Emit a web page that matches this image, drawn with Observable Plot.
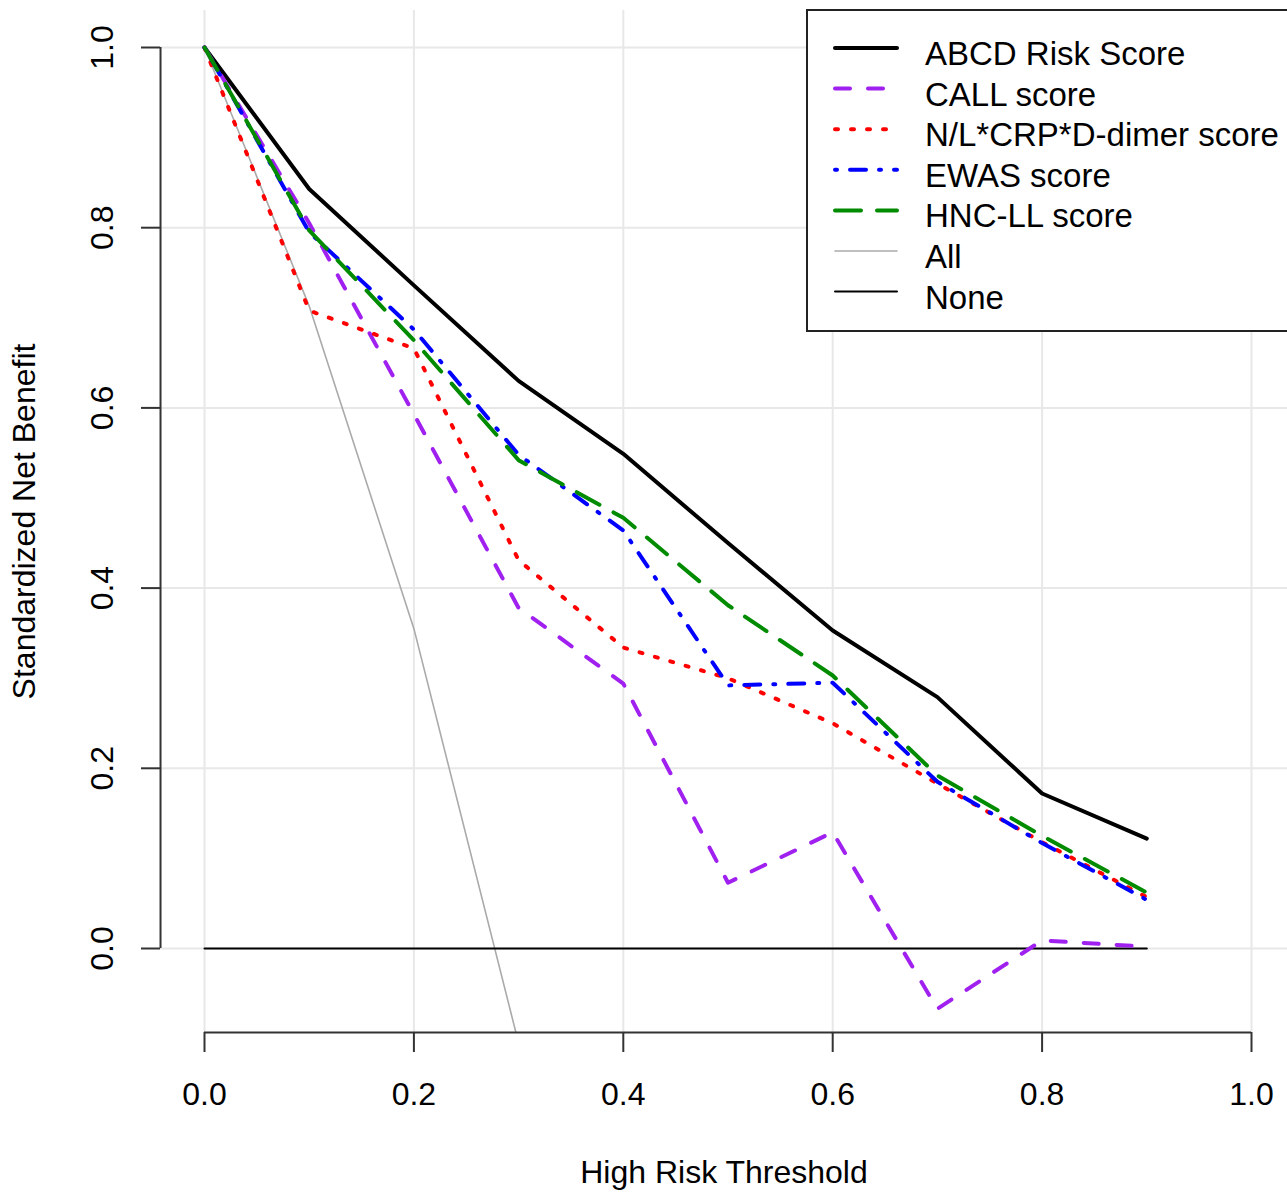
<!DOCTYPE html>
<html>
<head>
<meta charset="utf-8">
<script src="https://cdn.jsdelivr.net/npm/d3@7"></script>
<script src="https://cdn.jsdelivr.net/npm/@observablehq/plot@0.6"></script>
<style>
  html, body { margin: 0; padding: 0; background: white; overflow: hidden; }
  #wrap { position: relative; width: 1287px; height: 1194px; overflow: hidden; }
  #legend { position: absolute; left: 0; top: 0; }
</style>
</head>
<body>
<div id="wrap"></div>
<script>
// ---- data ----
const thresholds = [0, 0.1, 0.2, 0.3, 0.4, 0.5, 0.6, 0.7, 0.8, 0.9];
const abcd     = [1.000, 0.843, 0.736, 0.630, 0.549, 0.450, 0.353, 0.279, 0.172, 0.122];
const callS    = [1.000, 0.805, 0.593, 0.378, 0.294, 0.073, 0.129, -0.067, 0.009, 0.002];
const nlcrp    = [1.000, 0.708, 0.666, 0.431, 0.334, 0.300, 0.250, 0.183, 0.118, 0.057];
const ewas     = [1.000, 0.795, 0.687, 0.548, 0.464, 0.292, 0.295, 0.185, 0.117, 0.054];
const hncll    = [1.000, 0.797, 0.675, 0.542, 0.478, 0.381, 0.303, 0.192, 0.125, 0.062];
const allTreat = [1.000, 0.713, 0.355, -0.105, -0.72, -1.58, -2.87, -5.02, -9.32, -22.2];
const noneTreat= [0, 0, 0, 0, 0, 0, 0, 0, 0, 0];

const seriesNames  = ["ABCD Risk Score", "CALL score", "N/L*CRP*D-dimer score", "EWAS score", "HNC-LL score", "All", "None"];
const seriesValues = [abcd, callS, nlcrp, ewas, hncll, allTreat, noneTreat];
const seriesColors = ["#000000", "#A020F0", "#FF0000", "#0000FF", "#008B00", "#AAAAAA", "#000000"];
const seriesDash   = [null, "15,18", "3,13", "2,13,16,13", "26,16", null, null];
const seriesWidth  = [4, 4, 4, 4, 4, 1.6, 2];
const drawOrder    = [5, 6, 0, 1, 2, 3, 4];

const xTicks = [0, 0.2, 0.4, 0.6, 0.8, 1.0];
const yTicks = [0, 0.2, 0.4, 0.6, 0.8, 1.0];
const xLabel = "High Risk Threshold";
const yLabel = "Standardized Net Benefit";

// axis positions (plot-region edges, R style 4% extension)
const yAxisAtX = -0.042;
const xAxisAtY = -0.0932;

const font = "'Liberation Sans', Arial, Helvetica, sans-serif";
const fmt = d3.format(".1f");

const lineMarks = drawOrder.map(i => {
  const rows = thresholds.map((t, k) => ({t, v: seriesValues[i][k]}));
  const opts = {x: "t", y: "v", stroke: seriesColors[i], strokeWidth: seriesWidth[i],
                strokeLinecap: "round", strokeLinejoin: "round", clip: true};
  if (seriesDash[i]) opts.strokeDasharray = seriesDash[i];
  return Plot.line(rows, opts);
});

const chart = Plot.plot({
  width: 1287,
  height: 1194,
  marginLeft: 160,
  marginRight: 0,
  marginTop: 10,
  marginBottom: 162,
  x: {domain: [0, 1], range: [204, 1251]},
  y: {domain: [0, 1], range: [948, 47]},
  style: {fontFamily: font, fontSize: "32px", color: "black", background: "white"},
  marks: [
    Plot.gridX(xTicks, {stroke: "#e8e8e8", strokeOpacity: 1, strokeWidth: 2}),
    Plot.gridY(yTicks, {stroke: "#e8e8e8", strokeOpacity: 1, strokeWidth: 2}),
    ...lineMarks,
    Plot.ruleX([yAxisAtX], {y1: yTicks[0], y2: yTicks[yTicks.length - 1], stroke: "#333", strokeWidth: 2}),
    Plot.ruleY([xAxisAtY], {x1: xTicks[0], x2: xTicks[xTicks.length - 1], stroke: "#333", strokeWidth: 2}),
    Plot.axisX(xTicks, {anchor: "bottom", tickSize: 20, tickPadding: 30, tickFormat: fmt,
                        label: null, fontSize: 32, stroke: "#333", strokeWidth: 2, fill: "black"}),
    Plot.axisY(yTicks, {anchor: "left", tickSize: 19, tickFormat: () => "", label: null,
                        stroke: "#333", strokeWidth: 2}),
    Plot.text(yTicks, {y: d => d, text: d => fmt(d), frameAnchor: "left", dx: -58, rotate: -90,
                       textAnchor: "middle", lineAnchor: "middle", fontSize: 32, fill: "black"}),
    Plot.text([yLabel], {text: d => d, frameAnchor: "left", dx: -136, rotate: -90,
                         textAnchor: "middle", lineAnchor: "middle", fontSize: 32, fill: "black"}),
    Plot.text([xLabel], {text: d => d, frameAnchor: "bottom", dy: 140,
                         textAnchor: "middle", lineAnchor: "middle", fontSize: 32, fill: "black"})
  ]
});

const wrap = document.getElementById("wrap");
wrap.appendChild(chart);

// ---- legend (overlay inside plot area, top-right) ----
const lg = d3.create("svg")
  .attr("id", "legend")
  .attr("width", 1287)
  .attr("height", 400)
  .style("font-family", font);

lg.append("rect")
  .attr("x", 807).attr("y", 10)
  .attr("width", 500).attr("height", 321)
  .attr("fill", "white").attr("stroke", "#222").attr("stroke-width", 2);

const rowY0 = 48, rowStep = 40.6;
seriesNames.forEach((name, i) => {
  const y = rowY0 + i * rowStep;
  const ln = lg.append("line")
    .attr("x1", 835).attr("x2", 897).attr("y1", y).attr("y2", y)
    .attr("stroke", seriesColors[i]).attr("stroke-width", seriesWidth[i])
    .attr("stroke-linecap", "round");
  if (seriesDash[i]) ln.attr("stroke-dasharray", seriesDash[i]);
  lg.append("text")
    .attr("x", 925).attr("y", y + 17)
    .attr("font-size", 33).attr("fill", "black")
    .text(name);
});

wrap.appendChild(lg.node());
</script>
</body>
</html>
